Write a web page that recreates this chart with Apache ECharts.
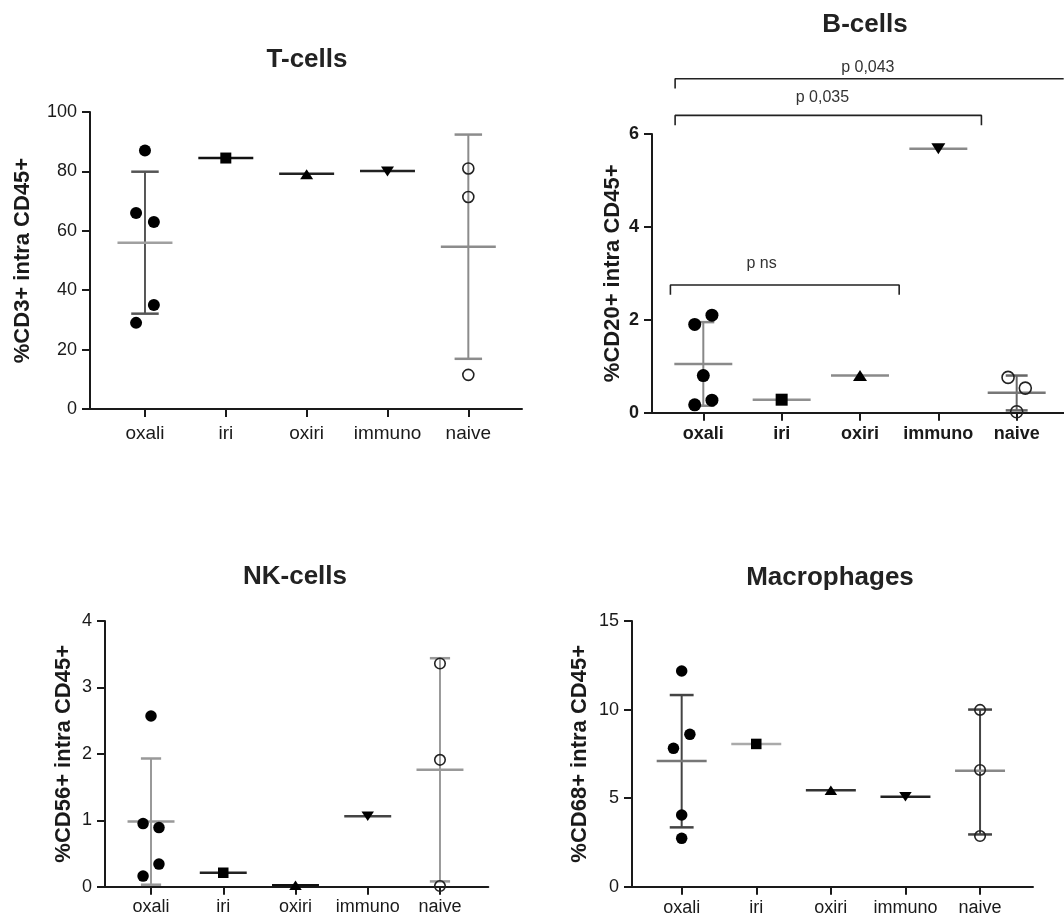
<!DOCTYPE html>
<html><head><meta charset="utf-8">
<script src="https://cdn.jsdelivr.net/npm/echarts@6/dist/echarts.min.js"></script>
<style>html,body{margin:0;padding:0;background:#fff}#c{width:1064px;height:918px}</style>
</head><body><div id="c"></div>
<script>
const categories = ['oxali', 'iri', 'oxiri', 'immuno', 'naive'];

// T-cells: %CD3+ intra CD45+
const tOxali = [87, 66, 63, 35, 29];
const tIri = [84.5];
const tOxiri = [79];
const tImmuno = [80];
const tNaive = [81, 71.4, 11.5];
const tMean = [56, 84.5, 79.2, 80.1, 54.6];
const tLower = [32.1, null, null, null, 16.9];
const tUpper = [79.9, null, null, null, 92.4];
const tYTicks = [0, 20, 40, 60, 80, 100];

// B-cells: %CD20+ intra CD45+
const bOxali = [1.9, 2.1, 0.8, 0.27, 0.17];
const bIri = [0.28];
const bOxiri = [0.8];
const bImmuno = [5.68];
const bNaive = [0.76, 0.53, 0.02];
const bMean = [1.05, 0.28, 0.8, 5.68, 0.43];
const bLower = [0.15, null, null, null, 0.05];
const bUpper = [1.95, null, null, null, 0.8];
const bYTicks = [0, 2, 4, 6];
const bracketLabels = ['p 0,043', 'p 0,035', 'p ns'];
const bracketLevel = [7.19, 6.40, 2.75];
const bracketFrom = [-0.36, -0.36, -0.42];
const bracketTo = [4.6, 3.55, 2.5];
const bracketLabelX = [2.10, 1.52, 0.744];
const bracketLabelY = [7.42, 6.78, 3.22];

// NK-cells: %CD56+ intra CD45+
const nOxali = [2.57, 0.95, 0.89, 0.34, 0.16];
const nIri = [0.21];
const nOxiri = [0.02];
const nImmuno = [1.06];
const nNaive = [3.36, 1.91, 0.01];
const nMean = [0.98, 0.21, 0.02, 1.06, 1.76];
const nLower = [0.03, null, null, null, 0.08];
const nUpper = [1.93, null, null, null, 3.44];
const nYTicks = [0, 1, 2, 3, 4];

// Macrophages: %CD68+ intra CD45+
const mOxali = [12.18, 8.6, 7.81, 4.05, 2.73];
const mIri = [8.06];
const mOxiri = [5.45];
const mImmuno = [5.08];
const mNaive = [9.98, 6.59, 2.86];
const mMean = [7.1, 8.06, 5.45, 5.08, 6.55];
const mLower = [3.35, null, null, null, 2.95];
const mUpper = [10.82, null, null, null, 10.0];
const mYTicks = [0, 5, 10, 15];

// horizontal spread of the dots within a column (category units)
const tOxaliJitter = [0, -0.11, 0.11, 0.11, -0.11];
const tNaiveJitter = [0, 0, 0];
const bOxaliJitter = [-0.11, 0.11, 0, 0.11, -0.11];
const bNaiveJitter = [-0.11, 0.11, 0];
const nOxaliJitter = [0, -0.11, 0.11, 0.11, -0.11];
const nNaiveJitter = [0, 0, 0];
const mOxaliJitter = [0, 0.11, -0.11, 0, 0];
const mNaiveJitter = [0, 0, 0];

const FONT = 'Liberation Sans, Arial, sans-serif';
const INK = '#1a1a1a';

const panels = [
  { title: 'T-cells', tx: 307, ty: 60, yName: '%CD3+ intra CD45+', nameGap: 56, ticks: tYTicks,
    grid: { left: 90, top: 112, width: 432, height: 297 }, xmin: -0.680, xmax: 4.664,
    groups: [tOxali, tIri, tOxiri, tImmuno, tNaive], jit: [tOxaliJitter, null, null, null, tNaiveJitter],
    mean: tMean, lower: tLower, upper: tUpper, dot: 12, bold: false, xfs: 19,
    meanCol: ['#a0a0a0', '#111', '#222', '#222', '#8c8c8c'], errCol: ['#555', null, null, null, '#8c8c8c'],
    halfMean: 0.34, halfCap: 0.17, labelMargin: 15 },
  { title: 'B-cells', tx: 865, ty: 25, yName: '%CD20+ intra CD45+', nameGap: 28, ticks: bYTicks,
    grid: { left: 652, top: 134, width: 412, height: 278.7 }, xmin: -0.655, xmax: 4.604,
    groups: [bOxali, bIri, bOxiri, bImmuno, bNaive], jit: [bOxaliJitter, null, null, null, bNaiveJitter],
    mean: bMean, lower: bLower, upper: bUpper, dot: 13, bold: true, xfs: 18,
    meanCol: ['#8a8a8a', '#909090', '#8a8a8a', '#8a8a8a', '#777'], errCol: ['#888', null, null, null, '#666'],
    halfMean: 0.37, halfCap: 0.14, labelMargin: 12 },
  { title: 'NK-cells', tx: 295, ty: 577, yName: '%CD56+ intra CD45+', nameGap: 30, ticks: nYTicks,
    grid: { left: 105, top: 621, width: 383.3, height: 265.7 }, xmin: -0.637, xmax: 4.669,
    groups: [nOxali, nIri, nOxiri, nImmuno, nNaive], jit: [nOxaliJitter, null, null, null, nNaiveJitter],
    mean: nMean, lower: nLower, upper: nUpper, dot: 11.5, bold: false, xfs: 18,
    meanCol: ['#999', '#222', '#111', '#444', '#999'], errCol: ['#999', null, null, null, '#999'],
    halfMean: 0.325, halfCap: 0.14, labelMargin: 11 },
  { title: 'Macrophages', tx: 830, ty: 578, yName: '%CD68+ intra CD45+', nameGap: 41, ticks: mYTicks,
    grid: { left: 632, top: 621, width: 401, height: 265.7 }, xmin: -0.666, xmax: 4.71,
    groups: [mOxali, mIri, mOxiri, mImmuno, mNaive], jit: [mOxaliJitter, null, null, null, mNaiveJitter],
    mean: mMean, lower: mLower, upper: mUpper, dot: 11.5, bold: false, xfs: 18,
    meanCol: ['#777', '#aaa', '#333', '#222', '#888'], errCol: ['#444', null, null, null, '#444'],
    halfMean: 0.335, halfCap: 0.16, labelMargin: 12 }
];

const grids = [], xAxes = [], yAxes = [], series = [], graphics = [];

panels.forEach((p, gi) => {
  grids.push(Object.assign({ containLabel: false }, p.grid));
  const ticks = p.ticks;
  xAxes.push({
    type: 'value', gridIndex: gi, min: p.xmin, max: p.xmax,
    axisLine: { show: true, onZero: false, lineStyle: { color: INK, width: 2 } },
    axisTick: { show: true, length: 8, customValues: [0, 1, 2, 3, 4], lineStyle: { color: INK, width: 2 } },
    axisLabel: { customValues: [0, 1, 2, 3, 4], formatter: v => categories[Math.round(v)] || '',
      margin: p.labelMargin, fontSize: p.xfs, fontWeight: p.bold ? 'bold' : 'normal', color: INK, fontFamily: FONT },
    splitLine: { show: false }
  });
  yAxes.push({
    type: 'value', gridIndex: gi, min: ticks[0], max: ticks[ticks.length - 1], interval: ticks[1] - ticks[0],
    axisLine: { show: true, onZero: false, lineStyle: { color: INK, width: 2 } },
    axisTick: { show: true, length: 8, lineStyle: { color: INK, width: 2 } },
    axisLabel: { margin: 13, fontSize: 18, fontWeight: p.bold ? 'bold' : 'normal', color: INK, fontFamily: FONT },
    splitLine: { show: false },
    name: p.yName, nameLocation: 'middle', nameRotate: 90, nameGap: p.nameGap,
    nameTextStyle: { fontSize: 22, fontWeight: 'bold', color: INK, fontFamily: FONT }
  });
  graphics.push({ type: 'text', x: p.tx, y: p.ty,
    style: { text: p.title, align: 'center', verticalAlign: 'middle', fill: '#222',
      font: 'bold 26px ' + FONT } });

  // mean line and SD bars
  const meanArr = p.mean, lowArr = p.lower, upArr = p.upper;
  series.push({
    type: 'custom', xAxisIndex: gi, yAxisIndex: gi, z: 2, clip: false, silent: true,
    data: meanArr.map((m, i) => [i, m]),
    renderItem: (params, api) => {
      const i = params.dataIndex;
      const x = api.value(0), m = api.value(1);
      const ch = [];
      if (lowArr[i] != null) {
        const a = api.coord([x, lowArr[i]]), b = api.coord([x, upArr[i]]);
        ch.push({ type: 'line', shape: { x1: a[0], y1: a[1], x2: b[0], y2: b[1] }, style: { stroke: p.errCol[i], lineWidth: 2 } });
        [lowArr[i], upArr[i]].forEach(v => {
          const l = api.coord([x - p.halfCap, v]), r = api.coord([x + p.halfCap, v]);
          ch.push({ type: 'line', shape: { x1: l[0], y1: l[1], x2: r[0], y2: r[1] }, style: { stroke: p.errCol[i], lineWidth: 2.5 } });
        });
      }
      const l = api.coord([x - p.halfMean, m]), r = api.coord([x + p.halfMean, m]);
      ch.push({ type: 'line', shape: { x1: l[0], y1: l[1], x2: r[0], y2: r[1] }, style: { stroke: p.meanCol[i], lineWidth: 2.5 } });
      return { type: 'group', children: ch };
    }
  });

  // dots
  const shapes = [
    { symbol: 'circle', size: p.dot, rot: 0, fill: '#000', border: 0 },
    { symbol: 'rect', size: p.dot - 1, rot: 0, fill: '#000', border: 0 },
    { symbol: 'triangle', size: [p.dot + 1, p.dot - 2], rot: 0, fill: '#000', border: 0 },
    { symbol: 'triangle', size: [p.dot + 1, p.dot - 2], rot: 180, fill: '#000', border: 0 },
    { symbol: 'circle', size: p.dot - 1, rot: 0, fill: 'rgba(255,255,255,0)', border: 1.6 }
  ];
  p.groups.forEach((vals, ci) => {
    const jit = p.jit[ci];
    const s = shapes[ci];
    series.push({
      type: 'scatter', xAxisIndex: gi, yAxisIndex: gi, z: 3, clip: false, silent: true,
      symbol: s.symbol, symbolSize: s.size, symbolRotate: s.rot,
      itemStyle: { color: s.fill, borderColor: '#222', borderWidth: s.border, opacity: 1 },
      data: vals.map((v, k) => [ci + (jit ? jit[k] : 0), v])
    });
  });
});

// significance brackets on the B-cells panel
const dropLen = 0.21;
bracketLabels.forEach((lab, k) => {
  const y = bracketLevel[k], x0 = bracketFrom[k], x1 = bracketTo[k];
  const pts = [[x0, y - dropLen], [x0, y], [x1, y]];
  if (k > 0) pts.push([x1, y - dropLen]);
  series.push({
    type: 'line', xAxisIndex: 1, yAxisIndex: 1, clip: false, silent: true, symbol: 'none',
    lineStyle: { color: '#222', width: 1.6 }, data: pts, z: 4
  });
});
series.push({
  type: 'custom', xAxisIndex: 1, yAxisIndex: 1, clip: false, silent: true, z: 4,
  data: bracketLabels.map((lab, k) => [bracketLabelX[k], bracketLabelY[k]]),
  renderItem: (params, api) => {
    const c = api.coord([api.value(0), api.value(1)]);
    return { type: 'text', x: c[0], y: c[1],
      style: { text: bracketLabels[params.dataIndex], align: 'center', verticalAlign: 'middle',
        fill: '#333', font: '16px ' + FONT } };
  }
});

const chart = echarts.init(document.getElementById('c'), null, { renderer: 'canvas' });
chart.setOption({
  animation: false,
  backgroundColor: '#fff',
  grid: grids, xAxis: xAxes, yAxis: yAxes, series: series,
  graphic: graphics
});
</script></body></html>
